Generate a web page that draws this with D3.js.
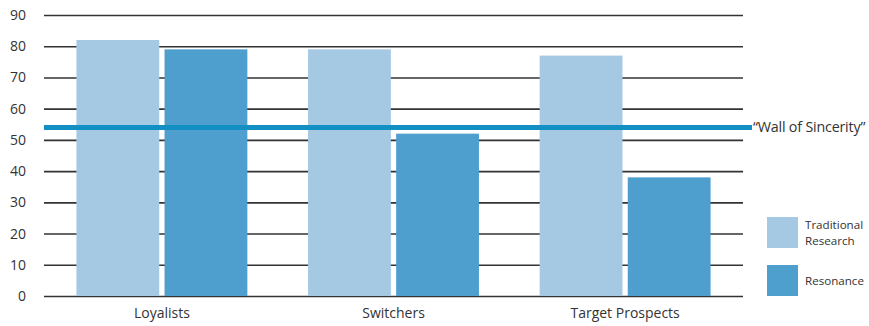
<!DOCTYPE html>
<html>
<head>
<meta charset="utf-8">
<script src="https://cdn.jsdelivr.net/npm/d3@7"></script>
<style>
  html, body { margin: 0; padding: 0; background: #fff; }
  svg { display: block; }
  text { font-family: "Open Sans", "Noto Sans", sans-serif; fill: #333; }
</style>
</head>
<body>
<svg id="chart" width="869" height="326"></svg>
<script>
const categories = ["Loyalists", "Switchers", "Target Prospects"];
const seriesNames = ["Traditional Research", "Resonance"];
const legendLines = [["Traditional", "Research"], ["Resonance"]];
const traditional = [82, 79, 77];
const resonance = [79, 52, 38];
const wallValue = 54;
const wallLabel = "\u201cWall of Sincerity\u201d";
const yTicks = [0, 10, 20, 30, 40, 50, 60, 70, 80, 90];
const colors = ["#a6c9e3", "#4f9fce"];

const svg = d3.select("#chart");
const plotLeft = 44, plotRight = 743, plotTop = 15, plotBottom = 296;

const y = d3.scaleLinear().domain([0, 90]).range([plotBottom, plotTop]);
const x0 = d3.scaleBand().domain(categories).range([plotLeft, plotRight])
  .paddingInner(0.262).paddingOuter(0.14);
const x1 = d3.scaleBand().domain(seriesNames).range([0, x0.bandwidth()])
  .paddingInner(0.06);

// gridlines
const yAxis = d3.axisLeft(y).tickValues(yTicks).tickSize(-(plotRight - plotLeft)).tickPadding(18);
const gAxis = svg.append("g").attr("transform", `translate(${plotLeft},0)`).call(yAxis);
gAxis.select(".domain").remove();
gAxis.selectAll(".tick line").attr("stroke", "#333").attr("stroke-width", 1.6);
gAxis.selectAll(".tick text").attr("font-size", 14).attr("fill", "#333")
  .attr("x", -18).attr("text-anchor", "end");

// bars
const rows = categories.map((c, i) => ({ cat: c, vals: [traditional[i], resonance[i]] }));
const groups = svg.append("g").selectAll("g").data(rows).join("g")
  .attr("transform", d => `translate(${x0(d.cat)},0)`);
groups.selectAll("rect").data(d => d.vals.map((v, j) => ({ name: seriesNames[j], v, j })))
  .join("rect")
  .attr("x", d => x1(d.name))
  .attr("width", x1.bandwidth())
  .attr("y", d => y(d.v))
  .attr("height", d => y(0) - y(d.v))
  .attr("fill", d => colors[d.j]);

// category labels
const xAxis = d3.axisBottom(x0).tickSize(0).tickPadding(12);
const gx = svg.append("g").attr("transform", `translate(0,${plotBottom})`).call(xAxis);
gx.select(".domain").remove();
gx.selectAll("text").attr("font-size", 14).attr("fill", "#333");

// wall line
svg.append("line")
  .attr("x1", plotLeft).attr("x2", 752)
  .attr("y1", y(wallValue)).attr("y2", y(wallValue))
  .attr("stroke", "#1390c3").attr("stroke-width", 5);
svg.append("text").attr("x", 753).attr("y", y(wallValue)).attr("dy", "0.35em")
  .attr("font-size", 14.3).attr("letter-spacing", -0.2).text(wallLabel);

// legend
const leg = svg.append("g");
const legY = [217, 265];
legendLines.forEach((lines, j) => {
  leg.append("rect").attr("x", 767).attr("y", legY[j]).attr("width", 31).attr("height", 31).attr("fill", colors[j]);
  const startY = legY[j] + 15.5 - (lines.length - 1) * 8 + 4;
  lines.forEach((ln, k) => {
    leg.append("text").attr("x", 805).attr("y", startY + k * 16)
      .attr("font-size", 11.6).text(ln);
  });
});
</script>
</body>
</html>
